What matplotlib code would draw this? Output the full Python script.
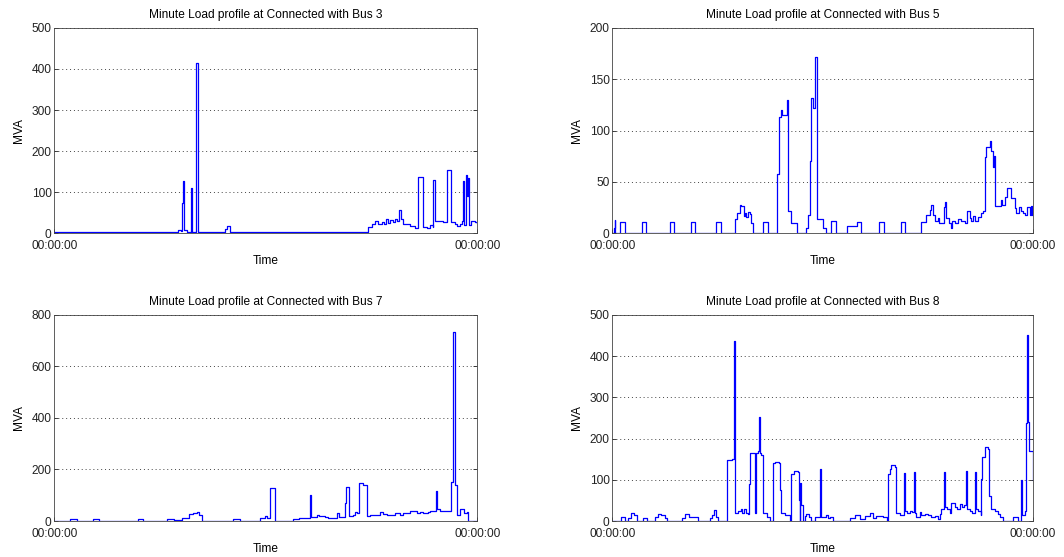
import matplotlib
matplotlib.use("Agg")
import matplotlib.pyplot as plt

plt.rcParams['font.family'] = ['Liberation Sans', 'DejaVu Sans']
plt.rcParams['font.size'] = 8.6

# (minute of day, MVA) breakpoints of each minute load profile, held until the next point
bus3 = [(0, 3), (422, 8), (430, 6), (436, 74), (438, 128), (440, 8), (451, 4),
        (464, 110), (469, 4), (482, 415), (488, 4), (578, 4), (582, 10), (589, 18),
        (598, 3), (1069, 15), (1080, 22), (1092, 30), (1103, 24), (1114, 28),
        (1122, 22), (1129, 36), (1137, 26), (1143, 32), (1154, 28), (1161, 35),
        (1168, 30), (1175, 57), (1179, 34), (1188, 24), (1200, 22), (1211, 18),
        (1228, 13), (1239, 138), (1256, 16), (1268, 14), (1279, 20), (1288, 15),
        (1290, 130), (1295, 29), (1313, 30), (1324, 28), (1336, 154), (1349, 28),
        (1364, 22), (1372, 18), (1381, 22), (1387, 30), (1390, 128), (1395, 20),
        (1402, 142), (1406, 90), (1408, 135), (1413, 20), (1418, 30), (1432, 28),
        (1440, 25)]

bus5 = [(0, 0), (5, 5), (8, 13), (10, 0), (27, 11), (42, 0), (102, 11), (116, 0),
        (196, 11), (211, 0), (268, 11), (284, 0), (356, 11), (371, 0), (419, 14),
        (428, 20), (436, 28), (442, 27), (450, 17), (453, 20), (459, 16), (464, 21),
        (470, 19), (476, 10), (481, 0), (517, 11), (532, 0), (565, 58), (570, 113),
        (578, 120), (580, 115), (597, 130), (601, 22), (610, 10), (633, 0), (662, 5),
        (670, 18), (675, 70), (681, 132), (686, 122), (695, 172), (700, 14), (720, 5),
        (730, 0), (750, 12), (765, 0), (804, 7), (839, 11), (852, 0), (913, 11),
        (929, 0), (987, 11), (1003, 0), (1058, 11), (1075, 18), (1086, 23),
        (1092, 28), (1098, 18), (1103, 12), (1113, 15), (1117, 10), (1135, 26),
        (1140, 31), (1143, 15), (1151, 10), (1158, 5), (1163, 12), (1172, 10),
        (1183, 14), (1195, 12), (1206, 10), (1215, 22), (1223, 15), (1229, 12),
        (1235, 17), (1240, 12), (1252, 16), (1261, 20), (1269, 22), (1275, 74),
        (1280, 84), (1292, 90), (1295, 80), (1303, 65), (1307, 75), (1309, 27),
        (1329, 32), (1334, 28), (1343, 35), (1352, 44), (1364, 43), (1366, 34),
        (1377, 25), (1383, 20), (1391, 26), (1398, 22), (1406, 20), (1414, 18),
        (1421, 26), (1429, 18), (1434, 27), (1438, 18), (1440, 18)]

bus7 = [(0, 2), (53, 9), (76, 2), (133, 9), (153, 2), (284, 9), (303, 2), (385, 9),
        (407, 2), (411, 4), (434, 10), (445, 13), (460, 28), (473, 30), (485, 36),
        (494, 25), (502, 2), (609, 9), (632, 2), (700, 10), (717, 18), (723, 12),
        (736, 128), (752, 2), (811, 9), (834, 11), (870, 100), (874, 15), (893, 23),
        (902, 18), (921, 15), (933, 11), (955, 13), (963, 31), (970, 15), (990, 70),
        (992, 133), (1004, 20), (1018, 25), (1024, 36), (1029, 30), (1036, 146),
        (1050, 140), (1063, 20), (1075, 22), (1109, 36), (1120, 28), (1131, 25),
        (1160, 30), (1177, 25), (1188, 30), (1211, 38), (1234, 32), (1245, 35),
        (1256, 30), (1273, 35), (1279, 40), (1299, 118), (1302, 45), (1313, 38),
        (1336, 40), (1350, 150), (1356, 430), (1358, 735), (1363, 140), (1365, 140),
        (1370, 25), (1381, 45), (1393, 30), (1404, 35), (1409, 0), (1440, 0)]

bus8 = [(0, 0), (29, 10), (42, 0), (54, 8), (63, 19), (74, 15), (86, 0), (105, 8),
        (120, 0), (147, 10), (156, 18), (168, 14), (181, 8), (188, 0), (238, 8),
        (250, 18), (261, 10), (293, 0), (333, 8), (341, 15), (348, 27), (356, 10),
        (362, 0), (394, 148), (410, 150), (416, 160), (418, 437), (421, 20),
        (430, 25), (439, 30), (444, 20), (451, 28), (459, 20), (464, 18), (469, 90),
        (472, 166), (487, 162), (489, 20), (492, 165), (499, 170), (502, 252),
        (505, 165), (510, 160), (517, 20), (531, 10), (539, 0), (550, 140),
        (556, 142), (569, 140), (574, 75), (578, 20), (590, 15), (601, 15), (607, 0),
        (610, 113), (622, 121), (636, 120), (638, 50), (641, 0), (644, 93),
        (647, 40), (652, 0), (658, 12), (664, 18), (673, 10), (681, 0), (692, 10),
        (710, 125), (713, 10), (733, 15), (738, 8), (744, 10), (755, 0), (813, 8),
        (830, 14), (847, 5), (864, 12), (883, 20), (892, 8), (904, 12), (927, 10),
        (941, 0), (944, 114), (949, 125), (955, 136), (969, 130), (972, 20),
        (984, 15), (998, 117), (1001, 60), (1003, 25), (1010, 20), (1018, 25),
        (1024, 22), (1032, 120), (1035, 20), (1041, 10), (1052, 22), (1058, 15),
        (1069, 18), (1081, 15), (1092, 10), (1103, 12), (1115, 5), (1121, 18),
        (1126, 30), (1134, 119), (1138, 35), (1146, 28), (1155, 20), (1160, 43),
        (1172, 35), (1181, 30), (1189, 42), (1197, 35), (1204, 40), (1211, 121),
        (1215, 30), (1223, 25), (1232, 20), (1240, 120), (1244, 30), (1252, 25),
        (1261, 15), (1263, 101), (1267, 156), (1275, 179), (1286, 175), (1288, 60),
        (1297, 30), (1309, 25), (1320, 18), (1326, 10), (1337, 0), (1372, 10),
        (1389, 0), (1398, 100), (1402, 15), (1412, 25), (1417, 239), (1420, 451),
        (1423, 240), (1425, 171), (1438, 171), (1440, 100)]

panels = [
    ('Minute Load profile at Connected with Bus 3', bus3, 500, 100),
    ('Minute Load profile at Connected with Bus 5', bus5, 200, 50),
    ('Minute Load profile at Connected with Bus 7', bus7, 800, 200),
    ('Minute Load profile at Connected with Bus 8', bus8, 500, 100),
]

# axes boxes in figure fractions (left, bottom, width, height)
boxes = [
    (0.051, 0.581, 0.3976, 0.369),
    (0.5755, 0.581, 0.3954, 0.369),
    (0.051, 0.0646, 0.3976, 0.370),
    (0.5755, 0.0646, 0.3954, 0.370),
]

fig = plt.figure(figsize=(10.64, 5.57), dpi=100)

for (title, data, ymax, ystep), box in zip(panels, boxes):
    ax = fig.add_axes(box)
    t = [p[0] for p in data]
    v = [p[1] for p in data]
    ax.plot(t, v, color='#0000ff', lw=0.9, drawstyle='steps-post')
    ax.set_xlim(0, 1440)
    ax.set_ylim(0, ymax)
    ax.set_yticks(range(0, ymax + 1, ystep))
    ax.set_xticks([0, 1440])
    ax.set_xticklabels(['00:00:00', '00:00:00'])
    ax.yaxis.grid(True, linestyle=(0, (1, 3)), color='#444444', lw=0.7)
    ax.tick_params(direction='in', length=3, width=0.6, right=True, top=False,
                   labelsize=8.6, colors='#222222')
    ax.tick_params(axis='y', pad=2)
    ax.tick_params(axis='x', pad=5)
    for s in ax.spines.values():
        s.set_linewidth(0.6)
        s.set_color('#444444')
    ax.set_title(title, fontsize=8.6, pad=7)
    ax.set_xlabel('Time', fontsize=8.6, labelpad=2)
    ax.set_ylabel('MVA', fontsize=8.6, labelpad=5)

fig.savefig('out.png', dpi=100)
